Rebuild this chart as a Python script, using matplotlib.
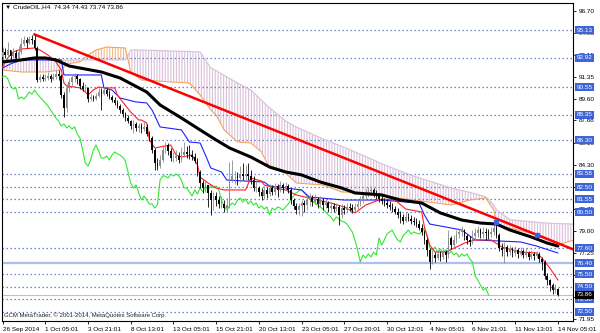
import matplotlib
matplotlib.use("Agg")
import matplotlib.pyplot as plt
import numpy as np

plt.rcParams['font.family'] = ['Liberation Sans', 'DejaVu Sans']
plt.rcParams['hatch.linewidth'] = 0.8

# ---- CrudeOIL H4 candles, bar 0 = 26 Sep 2014 ----
opens = [
    92.99, 93.39, 93.15, 93.55, 93.07, 93.31, 92.91, 93.39, 94.03, 94.36, 94.11, 94.44, 94.36, 93.71, 91.14, 91.38,
    91.22, 91.30, 91.46, 91.22, 91.38, 91.62, 91.46, 89.93, 88.88, 90.50, 90.98, 91.38, 91.46, 91.22, 90.65, 90.41,
    90.50, 89.61, 89.77, 89.61, 89.85, 90.17, 90.01, 90.33, 90.01, 89.77, 89.53, 89.29, 89.05, 88.72, 88.40, 88.08,
    87.84, 87.44, 87.60, 87.28, 87.44, 87.20, 87.36, 86.79, 86.47, 85.51, 84.46, 84.22, 84.70, 85.51, 85.91, 85.43,
    84.86, 84.86, 85.02, 84.70, 85.10, 85.35, 85.19, 85.10, 84.94, 84.62, 83.74, 82.85, 82.45, 82.69, 82.05, 81.48,
    81.81, 81.48, 81.16, 81.16, 80.84, 81.08, 83.09, 83.41, 83.41, 83.25, 83.57, 83.41, 83.57, 83.41, 83.09, 82.45,
    82.45, 82.13, 81.81, 82.29, 81.97, 82.45, 82.13, 82.61, 82.29, 82.69, 82.45, 82.61, 82.29, 81.48, 81.00, 80.68,
    81.00, 81.24, 81.08, 81.48, 81.64, 81.32, 81.56, 81.16, 81.40, 81.08, 81.24, 80.84, 81.00, 80.76, 80.92, 80.28,
    80.84, 80.68, 80.92, 80.84, 80.68, 80.92, 81.16, 81.48, 81.81, 82.05, 82.21, 82.29, 82.05, 81.81, 81.56, 81.40,
    81.24, 81.08, 80.92, 80.76, 80.52, 80.28, 80.12, 79.79, 80.12, 79.95, 79.79, 79.71, 79.55, 79.23, 78.91, 78.27,
    77.46, 76.50, 77.06, 76.82, 77.14, 76.90, 77.30, 77.06, 78.43, 77.86, 78.27, 78.75, 78.91, 79.07, 78.59, 78.27,
    78.11, 78.59, 78.83, 79.07, 78.75, 78.91, 78.83, 78.75, 78.91, 79.23, 78.67, 77.62, 77.46, 77.70, 77.30, 77.54,
    77.22, 77.46, 77.14, 77.38, 77.06, 77.22, 76.90, 77.14, 76.98, 77.14, 76.74, 76.50, 75.37, 75.05, 74.65, 74.24,
    74.34]
highs = [
    93.79, 93.71, 94.20, 93.55, 93.71, 93.55, 93.87, 94.52, 94.68, 94.60, 94.68, 94.76, 94.84, 93.87, 91.62, 91.62,
    91.62, 91.78, 91.62, 91.70, 91.94, 91.94, 91.62, 90.17, 90.82, 91.30, 91.62, 91.70, 91.62, 91.30, 90.98, 90.82,
    90.57, 90.01, 89.93, 90.09, 90.50, 90.50, 90.57, 90.50, 90.33, 89.93, 89.77, 89.53, 89.21, 88.89, 88.56, 88.32,
    87.92, 87.92, 87.76, 87.68, 87.68, 87.76, 87.60, 87.04, 86.63, 85.67, 84.86, 85.10, 85.91, 86.15, 86.07, 85.67,
    85.35, 85.51, 85.35, 85.74, 86.15, 85.83, 85.91, 85.51, 85.27, 84.86, 83.90, 83.09, 83.09, 82.69, 82.29, 82.13,
    82.13, 81.81, 81.81, 81.48, 81.64, 84.54, 84.70, 83.82, 83.74, 84.22, 84.46, 84.30, 84.46, 83.90, 83.41, 82.93,
    82.61, 82.45, 82.61, 82.53, 82.77, 82.69, 82.85, 82.77, 83.01, 82.85, 82.93, 82.77, 82.45, 81.64, 81.24, 81.24,
    81.48, 81.48, 81.81, 82.05, 81.89, 81.97, 81.73, 81.81, 81.64, 81.56, 81.40, 81.32, 81.24, 81.24, 81.08, 81.16,
    81.08, 81.24, 81.24, 81.16, 81.24, 81.48, 81.81, 82.13, 82.37, 82.53, 82.61, 82.45, 82.29, 82.05, 81.81, 81.64,
    81.56, 81.40, 81.24, 81.00, 80.84, 80.60, 80.36, 80.52, 80.44, 80.28, 80.12, 80.03, 79.87, 79.55, 79.07, 78.43,
    77.62, 77.46, 77.30, 77.46, 77.38, 77.54, 77.46, 79.07, 78.59, 78.67, 79.07, 79.23, 79.39, 79.15, 78.75, 78.59,
    79.07, 79.23, 79.39, 79.23, 79.31, 79.23, 79.15, 79.31, 79.55, 79.96, 78.83, 78.02, 78.11, 77.86, 77.86, 77.70,
    77.78, 77.62, 77.70, 77.54, 77.62, 77.38, 77.46, 77.30, 77.38, 77.30, 76.90, 76.66, 75.61, 75.13, 74.81, 74.73,
    74.43]
lows = [
    92.75, 92.91, 92.99, 92.75, 92.91, 92.59, 92.75, 93.23, 93.87, 93.71, 94.03, 94.03, 93.55, 90.98, 90.98, 91.06,
    91.06, 91.14, 90.98, 91.14, 91.22, 91.14, 89.69, 88.16, 88.56, 90.17, 90.65, 90.98, 90.82, 90.41, 90.25, 90.17,
    89.37, 89.45, 89.45, 89.53, 89.77, 88.72, 89.93, 89.85, 89.61, 89.37, 89.13, 88.89, 88.48, 88.16, 87.84, 87.68,
    87.20, 86.88, 87.04, 86.96, 86.88, 87.04, 86.63, 86.23, 85.27, 83.90, 83.90, 84.06, 84.54, 85.27, 85.10, 84.62,
    84.54, 84.62, 84.46, 84.54, 84.94, 84.86, 84.78, 84.70, 84.46, 83.41, 82.45, 82.05, 82.13, 80.92, 80.28, 80.68,
    81.00, 80.84, 80.84, 80.52, 80.52, 80.84, 82.93, 82.77, 82.69, 82.93, 83.09, 83.09, 83.09, 82.77, 82.21, 82.13,
    81.81, 81.48, 81.56, 81.64, 81.81, 81.89, 81.89, 81.73, 82.13, 82.05, 82.29, 82.05, 81.16, 80.76, 80.36, 80.28,
    80.20, 80.52, 80.68, 81.00, 81.00, 81.16, 80.84, 81.00, 80.68, 80.84, 80.52, 80.60, 80.52, 80.60, 79.47, 80.03,
    80.36, 80.52, 80.60, 80.44, 80.52, 80.76, 81.00, 81.24, 81.48, 81.73, 81.89, 81.73, 81.56, 81.32, 81.16, 81.00,
    80.84, 80.68, 80.52, 80.36, 80.03, 79.63, 79.55, 79.71, 79.79, 79.55, 79.47, 79.31, 79.07, 78.67, 77.94, 76.98,
    75.93, 76.34, 76.50, 76.66, 76.58, 76.74, 76.50, 76.82, 77.54, 77.70, 78.02, 78.43, 78.59, 78.27, 77.94, 77.78,
    77.94, 78.27, 78.51, 78.43, 78.43, 78.27, 78.35, 78.51, 78.67, 78.43, 77.38, 76.98, 76.42, 76.98, 77.06, 76.90,
    76.98, 76.82, 76.98, 76.82, 76.90, 76.66, 76.74, 76.66, 76.82, 76.50, 75.85, 75.13, 74.65, 74.16, 73.92, 74.00,
    73.74]
closes = [
    93.39, 93.15, 93.55, 93.07, 93.31, 92.91, 93.39, 94.03, 94.36, 94.11, 94.44, 94.36, 93.71, 91.14, 91.38, 91.22,
    91.30, 91.46, 91.22, 91.38, 91.62, 91.46, 89.93, 88.88, 90.50, 90.98, 91.38, 91.46, 91.22, 90.65, 90.41, 90.50,
    89.61, 89.77, 89.61, 89.85, 90.17, 90.01, 90.33, 90.01, 89.77, 89.53, 89.29, 89.05, 88.72, 88.40, 88.08, 87.84,
    87.44, 87.60, 87.28, 87.44, 87.20, 87.36, 86.79, 86.47, 85.51, 84.46, 84.22, 84.70, 85.51, 85.91, 85.43, 84.86,
    84.86, 85.02, 84.70, 85.10, 85.35, 85.19, 85.10, 84.94, 84.62, 83.74, 82.85, 82.45, 82.69, 82.05, 81.48, 81.81,
    81.48, 81.16, 81.16, 80.84, 81.08, 83.09, 83.41, 83.41, 83.25, 83.57, 83.41, 83.57, 83.41, 83.09, 82.45, 82.45,
    82.13, 81.81, 82.29, 81.97, 82.45, 82.13, 82.61, 82.29, 82.69, 82.45, 82.61, 82.29, 81.48, 81.00, 80.68, 81.00,
    81.24, 81.08, 81.48, 81.64, 81.32, 81.56, 81.16, 81.40, 81.08, 81.24, 80.84, 81.00, 80.76, 80.92, 80.28, 80.84,
    80.68, 80.92, 80.84, 80.68, 80.92, 81.16, 81.48, 81.81, 82.05, 82.21, 82.29, 82.05, 81.81, 81.56, 81.40, 81.24,
    81.08, 80.92, 80.76, 80.52, 80.28, 80.12, 79.79, 80.12, 79.95, 79.79, 79.71, 79.55, 79.23, 78.91, 78.27, 77.46,
    76.50, 77.06, 76.82, 77.14, 76.90, 77.30, 77.06, 78.43, 77.86, 78.27, 78.75, 78.91, 79.07, 78.59, 78.27, 78.11,
    78.59, 78.83, 79.07, 78.75, 78.91, 78.83, 78.75, 78.91, 79.23, 78.67, 77.62, 77.46, 77.70, 77.30, 77.54, 77.22,
    77.46, 77.14, 77.38, 77.06, 77.22, 76.90, 77.14, 76.98, 77.14, 76.74, 76.50, 75.37, 75.05, 74.65, 74.24, 74.41,
    73.86]

# time axis labels (one every 16 bars)
label_bars = [0, 16, 32, 48, 64, 80, 96, 112, 128, 144, 160, 176, 192, 208]
date_labels = ["26 Sep 2014", "1 Oct 05:01", "3 Oct 21:01", "8 Oct 13:01", "13 Oct 05:01",
               "15 Oct 21:01", "20 Oct 13:01", "23 Oct 05:01", "27 Oct 20:01", "30 Oct 12:01",
               "4 Nov 05:01", "6 Nov 21:01", "11 Nov 13:01", "14 Nov 05:01"]

# Ichimoku lines (bar index, price)
tenkan_bars = [0, 2, 4, 7, 12, 14, 17, 20, 22, 23, 24, 27, 29, 31, 32, 34, 36, 39, 42, 43,
               45, 48, 51, 52, 54, 55, 57, 59, 63, 65, 67, 71, 73, 74, 77, 80, 83, 91, 93, 97,
               98, 102, 106, 110, 115, 123, 128, 132, 136, 142, 147, 151, 157, 158, 160, 162, 166, 170, 173, 177,
               183, 187, 194, 200, 202, 205, 208]
tenkan = [92.18, 92.91, 93.39, 93.63, 93.71, 93.55, 93.15, 92.59, 91.94, 90.90, 90.65, 90.57, 90.50, 90.17, 89.93, 90.33, 90.57, 90.50, 90.50, 89.93,
          89.37, 88.56, 87.92, 87.92, 87.68, 86.31, 85.67, 85.75, 85.91, 85.10, 84.94, 85.10, 84.30, 83.33, 82.85, 82.45, 82.29, 82.29, 83.25, 83.01,
          82.69, 82.45, 82.29, 81.89, 81.64, 81.24, 80.92, 80.44, 81.08, 81.56, 81.48, 80.76, 80.52, 79.31, 77.86, 77.30, 77.30, 77.70, 78.02, 78.27,
          78.27, 77.70, 77.30, 77.22, 76.82, 76.01, 75.05]
kijun_bars = [0, 3, 7, 22, 23, 37, 38, 41, 44, 50, 54, 56, 59, 67, 70, 74, 76, 78, 82, 84,
              98, 100, 106, 112, 115, 128, 142, 156, 158, 160, 172, 177, 194, 200, 208]
kijun = [92.10, 92.43, 92.75, 92.75, 91.54, 91.54, 90.49, 90.33, 89.69, 89.37, 89.29, 88.72, 87.36, 87.12, 86.15, 86.07, 85.10, 84.06, 83.74, 83.09,
         82.93, 82.61, 82.45, 82.29, 81.72, 81.48, 81.48, 81.24, 80.28, 79.55, 79.07, 78.27, 78.11, 77.78, 77.22]
cloud_bars = [0, 7, 16, 22, 24, 29, 32, 35, 39, 46, 48, 52, 63, 70, 74, 78, 80, 83, 88, 93,
              97, 100, 106, 110, 120, 127, 138, 142, 154, 168, 175, 181, 184, 185, 190, 202, 209, 214]
span_a = [91.94, 91.78, 91.78, 91.94, 92.42, 92.59, 93.15, 93.55, 93.79, 93.71, 91.78, 91.14, 90.98, 90.90, 89.93, 88.72, 88.32, 87.12, 86.15, 86.07,
          85.35, 84.06, 83.66, 82.85, 82.69, 82.13, 82.05, 81.81, 81.48, 81.08, 81.48, 81.64, 80.68, 79.47, 79.23, 78.59, 77.94, 78.27]
span_b = [92.75, 92.75, 92.75, 92.75, 92.75, 92.75, 92.75, 92.75, 92.75, 92.75, 93.55, 93.55, 93.47, 93.43, 93.39, 92.10, 91.90, 91.50, 90.90, 90.33,
          89.50, 88.90, 87.85, 87.35, 86.40, 85.80, 84.80, 84.40, 83.40, 82.45, 82.10, 81.75, 81.08, 80.70, 79.90, 79.65, 79.58, 79.55]

# moving average (thick black)
ma_bars = [0, 7, 12, 16, 20, 25, 29, 37, 44, 54, 59, 67, 74, 80, 85, 93, 100, 106, 112, 119,
           127, 132, 142, 149, 157, 164, 172, 179, 185, 190, 198, 204, 208]
ma = [92.59, 92.75, 92.91, 92.91, 92.75, 92.26, 92.10, 91.78, 91.30, 90.17, 89.13, 88.08, 87.12, 86.31, 85.67, 84.94, 84.14, 83.74, 83.50, 82.93,
      82.45, 82.05, 81.89, 81.48, 81.24, 80.44, 79.87, 79.63, 79.55, 79.07, 78.51, 78.02, 77.78]

# trend line anchors
trend_bars = [12, 214]
trend_prices = [94.80, 77.49]

# horizontal levels
dotted_levels = [95.13, 92.92, 90.55, 88.35, 86.30, 83.58, 82.50, 81.55, 80.50, 77.60, 75.50, 74.50, 73.50, 72.50]
solid_level = 76.40
bid = 73.86
price_ticks = [96.70, 94.93, 93.15, 91.35, 89.60, 87.88, 86.10, 84.30, 82.55, 80.75, 79.00, 77.25, 75.48, 73.70, 71.95]
# scale labels that the level boxes cover completely
covered_ticks = [82.55, 75.48, 73.70]

# signal markers
marker_bars = [185, 200]
marker_prices = [79.71, 78.67]

CHIKOU_SHIFT = 26

# ---- plot ----
fig = plt.figure(figsize=(6, 3.33), dpi=100)
ax = fig.add_axes([2 / 600, 12 / 333, 571 / 600, 318 / 333])

x = np.arange(len(closes))
o = np.array(opens)
c = np.array(closes)
h = np.array(highs)
l = np.array(lows)

# cloud
cb = np.array(cloud_bars)
sa = np.array(span_a)
sb = np.array(span_b)
ax.fill_between(cb, sa, sb, where=sb >= sa, interpolate=True, facecolor='none',
                edgecolor='#d9bfd9', hatch='||||||', linewidth=0, zorder=1)
ax.fill_between(cb, sa, sb, where=sa > sb, interpolate=True, facecolor='none',
                edgecolor='#f6b98a', hatch='||||||', linewidth=0, zorder=1)
ax.plot(cb, sa, color='#f4a460', lw=0.8, zorder=2)
ax.plot(cb, sb, color='#d8bfd8', lw=0.8, zorder=2)

# levels
for lv in dotted_levels:
    ax.axhline(lv, color='#5f82e6', lw=0.9, ls=(0, (1.2, 2.0)), zorder=1.5)
ax.axhline(solid_level, color='#aabff2', lw=1.6, zorder=1.5)
ax.axhline(bid, color='#c0c0c0', lw=0.8, zorder=1.5)

# indicator lines
ax.plot(x[CHIKOU_SHIFT:] - CHIKOU_SHIFT, c[CHIKOU_SHIFT:], color='#33e633', lw=0.8, zorder=3)
ax.plot(kijun_bars, kijun, color='#2020ff', lw=0.8, zorder=3)
ax.plot(tenkan_bars, tenkan, color='#ff2020', lw=0.8, zorder=3)

# candles
bull = c >= o
cols = np.where(bull, '#8c8c8c', '#000000')
ax.vlines(x, l, h, colors=cols, lw=0.6, zorder=4)
ax.bar(x, np.maximum(np.abs(c - o), 0.03), bottom=np.minimum(o, c), width=0.6,
       color=cols, linewidth=0, zorder=4)

ax.plot(ma_bars, ma, color='black', lw=2.2, zorder=5, solid_capstyle='round')
ax.plot(trend_bars, trend_prices, color='#ff0000', lw=1.8, zorder=6)
ax.plot(marker_bars, marker_prices, 's', color='#3b5ee8', ms=2.5, zorder=6)

ax.set_xlim(-0.2, 213.66)
ax.set_ylim(71.75, 97.33)

ax.yaxis.tick_right()
ax.set_yticks(price_ticks)
ax.set_yticklabels(['' if t in covered_ticks else f'{t:.2f}' for t in price_ticks])
ax.tick_params(axis='y', length=2.5, width=0.6, pad=1.5, labelsize=4.6, direction='out')
ax.set_xticks(label_bars)
ax.set_xticklabels(date_labels, ha='left')
ax.tick_params(axis='x', length=2.5, width=0.6, pad=1.5, labelsize=4.6, direction='out')
for sp in ax.spines.values():
    sp.set_linewidth(0.8)
    sp.set_color('black')

# price boxes on the right scale
ytr = ax.get_yaxis_transform()
for lv in dotted_levels + [solid_level]:
    ax.text(1.006, lv, f'{lv:.2f}', transform=ytr, fontsize=4.6, color='white',
            va='center', ha='left', zorder=10, clip_on=False,
            bbox=dict(boxstyle='square,pad=0.25', fc='#3d64d8', ec='none'))
ax.text(1.006, bid, f'{bid:.2f}', transform=ytr, fontsize=4.6, color='white',
        va='center', ha='left', zorder=11, clip_on=False,
        bbox=dict(boxstyle='square,pad=0.25', fc='black', ec='none'))

title = f'\u25bc CrudeOIL,H4  {opens[-1]:.2f} {highs[-1]:.2f} {lows[-1]:.2f} {closes[-1]:.2f}'
fig.text(5 / 600, 1 - 7 / 333, title, fontsize=4.6, va='center', ha='left')
fig.text(4 / 600, 1 - 315 / 333, 'GCM MetaTrader, \u00a9 2001-2014, MetaQuotes Software Corp.',
         fontsize=4.3, va='center', ha='left', color='#222222')

fig.savefig('out.png', dpi=100)
